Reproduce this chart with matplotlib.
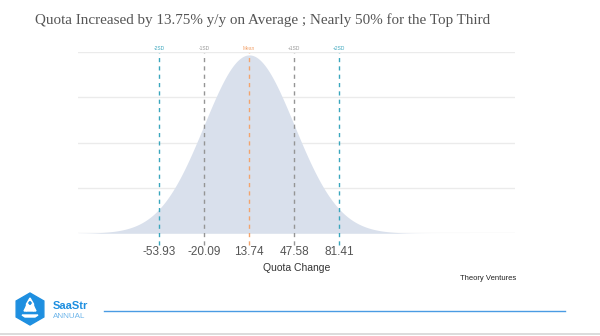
import numpy as np
import matplotlib.pyplot as plt
from matplotlib.patches import RegularPolygon, Polygon
from matplotlib.lines import Line2D

# distribution of quota change (%)
mean = 13.74
sd = 33.84
tick_values = [-53.93, -20.09, 13.74, 47.58, 81.41]
marker_labels = ["-2SD", "-1SD", "Mean", "+1SD", "+2SD"]
marker_colors = ["#3aa6bd", "#959595", "#f2a46e", "#959595", "#3aa6bd"]

title = "Quota Increased by 13.75% y/y on Average ; Nearly 50% for the Top Third"

fig = plt.figure(figsize=(6, 3.36), dpi=100)
fig.patch.set_facecolor("white")

ax = fig.add_axes([78 / 600, (336 - 233.3) / 336, (515 - 78) / 600, (233.3 - 51.7) / 336])

x = np.linspace(-114.8, 213.4, 600)
density = np.exp(-0.5 * ((x - mean) / sd) ** 2) / (sd * np.sqrt(2 * np.pi))
ax.fill_between(x, 0, density, color="#d9e0ec", lw=0, zorder=1)

ax.set_xlim(-114.8, 213.4)
ax.set_ylim(0, 0.012)
ax.set_yticks([0, 0.003, 0.006, 0.009, 0.012])
ax.yaxis.grid(True, color="#ebebeb", lw=1)
ax.set_axisbelow(True)
ax.tick_params(left=False, labelleft=False, bottom=False)
for s in ax.spines.values():
    s.set_visible(False)

ax.set_xticks(tick_values)
ax.set_xticklabels(["%.2f" % v for v in tick_values], fontsize=8.5,
                   color="#555555", family="Liberation Sans")
ax.tick_params(axis="x", pad=6)
ax.set_xlabel("Quota Change", fontsize=7.5, color="#333333",
              family="Liberation Sans", labelpad=3)

for v, lab, c in zip(tick_values, marker_labels, marker_colors):
    ax.add_line(Line2D([v, v], [-0.00075, 0.0119], color=c, lw=1,
                       ls=(0, (3, 3)), clip_on=False, zorder=3))
    ax.text(v, 0.01205, lab, fontsize=3.5, color=c, ha="center", va="bottom",
            family="Liberation Sans")

fig.text(35 / 600, 1 - 20 / 336, title, fontsize=10.9, color="#555555",
         family="Liberation Serif", va="center", ha="left")

# footer drawn in pixel units
foot = fig.add_axes([0, 0, 1, 1], facecolor="none")
foot.set_xlim(0, 600)
foot.set_ylim(336, 0)
foot.axis("off")

foot.text(516, 278, "Theory Ventures", fontsize=5.5, color="#222222",
          family="Liberation Sans", va="center", ha="right")

foot.add_patch(RegularPolygon((30, 309), 6, radius=16, orientation=0,
                              color="#1e8fe0", zorder=5))
# rocket
foot.add_patch(Polygon([(30, 298), (33.5, 304), (33.5, 311), (26.5, 311), (26.5, 304)],
                       closed=True, color="white", zorder=6))
foot.add_patch(Polygon([(26.5, 306), (24, 311), (26.5, 311)], color="white", zorder=6))
foot.add_patch(Polygon([(33.5, 306), (36, 311), (33.5, 311)], color="white", zorder=6))
foot.add_patch(Polygon([(22, 315), (38, 315), (35, 317), (25, 317)], color="white", zorder=6))
foot.add_patch(Polygon([(30, 301.5), (31.2, 303), (30, 304.5), (28.8, 303)],
                       color="#1e8fe0", zorder=7))

foot.text(53, 306, "SaaStr", fontsize=8, fontweight="bold", color="#1e8fe0",
          family="Liberation Sans", va="center", ha="left")
foot.text(53, 316, "ANNUAL", fontsize=5.8, color="#6db5ea",
          family="Liberation Sans", va="center", ha="left")

foot.plot([104, 565], [311, 311], color="#4a9be3", lw=1)
foot.plot([0, 600], [333.5, 333.5], color="#d5d5d5", lw=1.2)

fig.savefig("out.png", dpi=100)
